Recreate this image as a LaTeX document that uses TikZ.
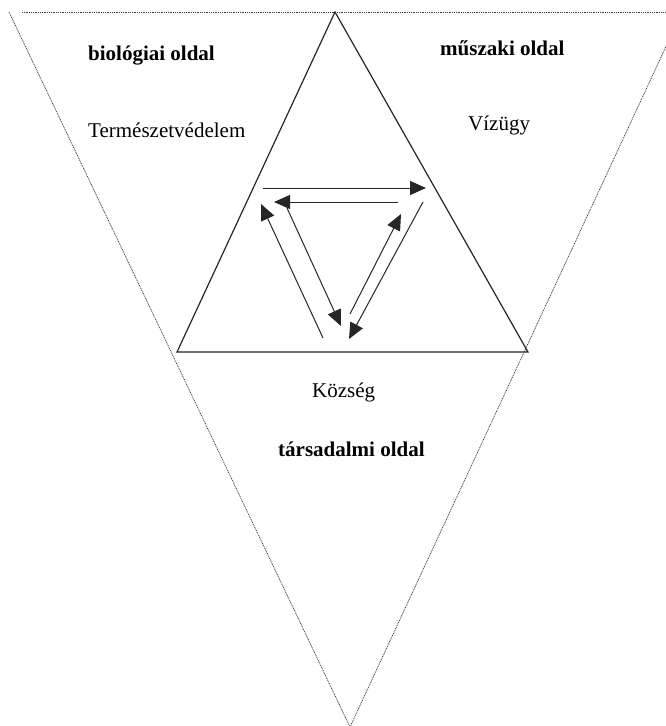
\documentclass[tikz,border=0pt]{standalone}
\usepackage{fontspec}
\setmainfont{Liberation Serif}
\usetikzlibrary{arrows.meta}
\begin{document}
\begin{tikzpicture}[x=1pt,y=-1pt,
  outerline/.style={line width=0.7pt,dash pattern=on 1pt off 0.8pt,draw=black!80},
  innerline/.style={line width=1.2pt,draw=black!85},
  flow/.style={line width=1pt,draw=black!85,-{Triangle[length=16pt,width=14pt]}},
  lbl/.style={anchor=base west,inner sep=0pt,font=\fontsize{21}{24}\selectfont},
  blbl/.style={lbl,font=\fontsize{21}{24}\selectfont\bfseries}]
\useasboundingbox (0,0) rectangle (666,726);
\begin{scope}
\clip (0,0) rectangle (666,726);
% outer inverted triangle
\coordinate (oL) at (9,12);
\coordinate (oR) at (682,12);
\coordinate (oB) at (350,727);
\draw[outerline] (oL) -- (oB) -- (oR);
\draw[outerline] (22,12) -- (oR);
\end{scope}
% inner triangle
\coordinate (iA) at (335,12);
\coordinate (iL) at (177,352);
\coordinate (iR) at (528,352);
\draw[innerline] (iA) -- (iL) -- (iR) -- cycle;
% arrows
\coordinate (a1s) at (263,188); \coordinate (a1e) at (426,188);
\coordinate (a2s) at (398,202); \coordinate (a2e) at (274,202);
\coordinate (a3s) at (323,338); \coordinate (a3e) at (261,204);
\coordinate (a4s) at (287,208); \coordinate (a4e) at (341,326);
\coordinate (a5s) at (350,314); \coordinate (a5e) at (401,214);
\coordinate (a6s) at (423,202); \coordinate (a6e) at (349,339);
\draw[flow] (a1s) -- (a1e);
\draw[flow] (a2s) -- (a2e);
\draw[flow] (a3s) -- (a3e);
\draw[flow] (a4s) -- (a4e);
\draw[flow] (a5s) -- (a5e);
\draw[flow] (a6s) -- (a6e);
% labels
\node[blbl] (bio) at (88,60) {biológiai oldal};
\node[lbl] (term) at (88,137) {Természetvédelem};
\node[blbl] (musz) at (440,55) {műszaki oldal};
\node[lbl] (viz) at (468,130) {Vízügy};
\node[lbl] (koz) at (312,397) {Község};
\node[blbl] (tars) at (278,456) {társadalmi oldal};
\end{tikzpicture}
\end{document}
